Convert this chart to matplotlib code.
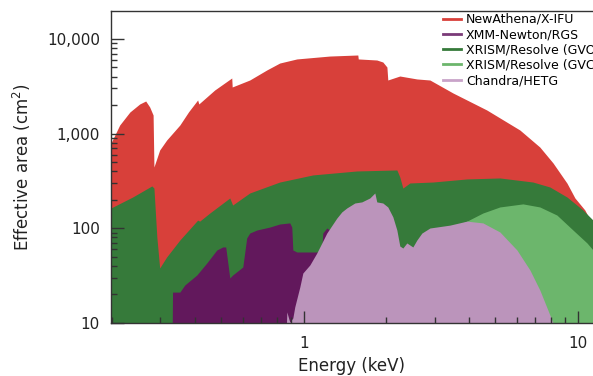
# lib data visualizations
import matplotlib
matplotlib.use("Agg")
import matplotlib.pyplot as plt
from matplotlib.lines import Line2D
# ----------------------------------------------------------------------------------------

# data (energy in keV, effective area in cm2)
athena_e = [0.198, 0.213, 0.232, 0.252, 0.265, 0.274, 0.282, 0.284, 0.298, 0.316, 0.353,
            0.380, 0.410, 0.414, 0.473, 0.546, 0.548, 0.635, 0.733, 0.817, 0.943, 1.244,
            1.574, 1.58, 1.846, 1.942, 2.01, 2.025, 2.24, 2.585, 2.884, 3.50, 4.65, 6.14,
            7.26, 8.11, 9.12, 9.75, 10.6, 11.35]
athena_a = [796, 1232, 1690, 2055, 2208, 1910, 1570, 444, 671, 855, 1232,
            1700, 2265, 2055, 2884, 3864, 3105, 3680, 4700, 5560, 6140, 6590,
            6760, 6140, 5985, 5700, 5045, 3680, 4055, 3775, 3680, 2685, 1775, 1091,
            721, 490, 300, 209, 156, 106]

gvo_e = [0.198, 0.2375, 0.279, 0.284, 0.291, 0.298, 0.316, 0.353, 0.410, 0.417, 0.454,
         0.537, 0.550, 0.635, 0.817, 1.079, 1.561, 2.185, 2.24, 2.298, 2.437, 2.957,
         3.935, 5.19, 6.85, 7.90, 9.12, 10.43, 11.35]
gvo_a = [164, 214, 280, 266, 81, 38.1, 49.8, 75.2, 122, 119, 145,
         209, 176, 236, 308, 366, 403, 413, 348, 266, 301, 308,
         332, 340, 308, 273, 214, 156, 122]

gvc_e = [1.70, 1.892, 2.24, 2.884, 3.41, 3.935, 4.50, 5.19, 6.30, 7.26, 8.38, 9.59, 10.79, 11.35]
gvc_a = [1, 30, 45, 70, 100, 119, 145, 168, 181, 168, 138, 95.9, 70, 59]

rgs_e = [0.329, 0.332, 0.353, 0.368, 0.407, 0.4426, 0.4815, 0.506, 0.519, 0.537, 0.550,
         0.599, 0.619, 0.635, 0.674, 0.751, 0.817, 0.889, 0.904, 0.912, 0.943, 1.115,
         1.163, 1.173, 1.213, 1.276, 1.297, 1.411, 1.601, 1.816]
rgs_a = [1, 21.2, 21.2, 25.2, 32.1, 43.0, 59.0, 63.5, 63.5, 29.9, 32.1,
         39.0, 79.0, 89.1, 95.9, 103, 111, 114, 103, 59.0, 56.2, 56.2,
         59.0, 89.1, 100.7, 91.5, 79.0, 59, 28.5, 1]

hetg_e = [0.845, 0.867, 0.889, 0.912, 0.927, 0.967, 0.992, 1.052, 1.115, 1.213, 1.319,
          1.376, 1.435, 1.535, 1.628, 1.741, 1.816, 1.846, 1.942, 2.025, 2.113, 2.185,
          2.24, 2.298, 2.376, 2.499, 2.585, 2.696, 2.884, 3.41, 3.935, 4.50, 5.19,
          5.99, 6.68, 7.26, 7.77, 8.11, 8.3]
hetg_a = [1, 13.1, 10.2, 11.3, 14.8, 24.0, 33.7, 41.0, 54.8, 89.1, 128,
          149, 164, 185, 190, 209, 236, 190, 185, 168, 132, 95.9,
          65, 61.9, 70, 63.5, 75.2, 89.1, 100.7, 108, 119, 114, 91.5,
          59.0, 36.3, 22.3, 13.7, 10, 1]

nm_labels = ["NewAthena/X-IFU", "XMM-Newton/RGS", "XRISM/Resolve (GVO)",
             "XRISM/Resolve (GVC)", "Chandra/HETG"]
colors = ["#D8403A", "#62185C", "#367A3A", "#6CB66C", "#BB94BB"]
legend_colors = ["#D8403A", "#7A3A78", "#367A3A", "#6CB66C", "#C9A3C9"]
# ----------------------------------------------------------------------------------------

# create figure
fig = plt.figure(figsize=(5.93, 3.76), dpi=100)
ax = fig.add_axes([111/593, 1-323/376, 1-111/593, (323-11)/376])

# filled areas, back to front
ax.fill_between(athena_e, athena_a, 1, color=colors[0], linewidth=0)
ax.fill_between(gvo_e, gvo_a, 1, color=colors[2], linewidth=0)
ax.fill_between(gvc_e, gvc_a, 1, color=colors[3], linewidth=0)
ax.fill_between(rgs_e, rgs_a, 1, color=colors[1], linewidth=0)
ax.fill_between(hetg_e, hetg_a, 1, color=colors[4], linewidth=0)

# axes scales
ax.set_xscale("log")
ax.set_yscale("log")
ax.set_xlim(0.198, 11.35)
ax.set_ylim(10, 19700)
ax.set_xticks([1, 10])
ax.set_xticklabels(["1", "10"])
ax.set_yticks([10, 100, 1000, 10000])
ax.set_yticklabels(["10", "100", "1,000", "10,000"])

# ticks and spines
ax.tick_params(which="major", direction="in", length=9, width=1, color="#333333",
               labelsize=11, labelcolor="#222222", pad=8)
ax.tick_params(which="minor", direction="in", length=4.5, width=1, color="#333333")
ax.tick_params(axis="x", which="major", pad=9)
ax.spines["right"].set_visible(False)
for s in ["left", "bottom", "top"]:
    ax.spines[s].set_color("#333333")
    ax.spines[s].set_linewidth(1)

# set label-labels
ax.set_xlabel("Energy (keV)", fontsize=12, color="#222222", labelpad=5)
ax.set_ylabel("Effective area (cm$^2$)", fontsize=12, color="#222222", labelpad=10)

# legend (clipped at the right edge, as in the source figure)
handles = [Line2D([0], [0], color=c, linewidth=2) for c in legend_colors]
fig.legend(handles, nm_labels, loc="upper left", bbox_to_anchor=(443/593, 1-13/376),
           bbox_transform=fig.transFigure, frameon=False, fontsize=9,
           handlelength=1.45, handletextpad=0.4, labelspacing=0.18,
           borderpad=0, borderaxespad=0)

# save
fig.savefig("out.png", dpi=100)
